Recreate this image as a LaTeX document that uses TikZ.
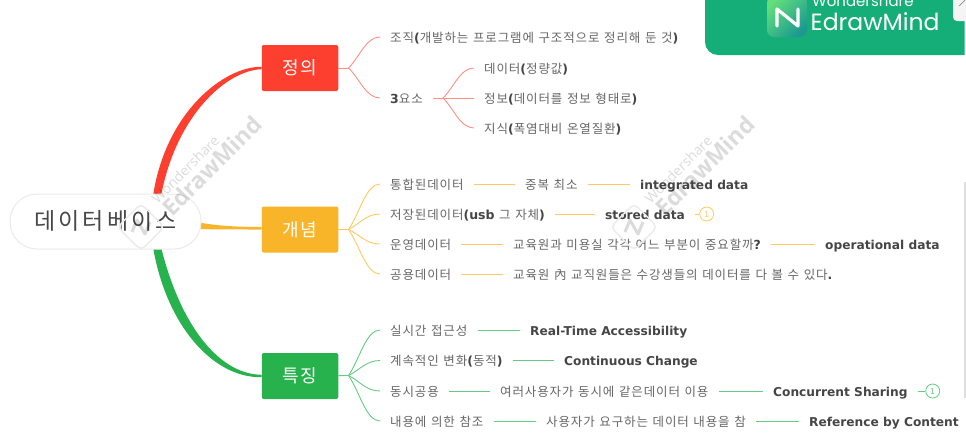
\documentclass[tikz,border=0pt]{standalone}
\usepackage{fontspec}
\usetikzlibrary{calc}
\setmainfont[LetterSpace=7,WordSpace=1.25]{Noto Sans CJK KR}
\newfontfamily\rootfont[LetterSpace=13.5]{Noto Sans CJK KR}
\newfontfamily\latfont{DejaVu Sans}
\newfontfamily\markfont{Open Sans}
\newfontfamily\brandfont{Poppins}
\newcommand{\lat}[1]{{\latfont\bfseries\color{latgray}#1}}
\definecolor{latgray}{HTML}{454545}
\definecolor{kortext}{HTML}{666666}
\definecolor{redc}{HTML}{FD3F2F}
\definecolor{orangec}{HTML}{F9B52A}
\definecolor{greenc}{HTML}{27B24E}
\definecolor{redl}{HTML}{FF8F85}
\definecolor{orangel}{HTML}{FFC95F}
\definecolor{greenl}{HTML}{63CC82}
\definecolor{brand}{HTML}{16AE78}
\definecolor{logotop}{HTML}{62DE7B}
\definecolor{logoend}{HTML}{1B9A90}
\tikzset{
  every node/.style={inner ysep=0pt,text height=10pt,text depth=0pt},
  leaf/.style={anchor=west,inner xsep=10pt,text=kortext,font=\fontsize{12.5}{14}\selectfont},
  term/.style={anchor=west,inner xsep=10pt,text=latgray,font=\fontsize{12.2}{14}\latfont\bfseries},
  topic/.style={minimum width=76.5pt,minimum height=46pt,rounded corners=2pt,text=white,
    fill=#1,font=\fontsize{18}{20}\selectfont,text height=13pt},
  badge/.style={circle,draw=#1,line width=.8pt,inner sep=0pt,minimum size=14pt,text=#1,
    text height=6pt,font=\fontsize{8}{8}\latfont},
  redline/.style={draw=redl,line width=.9pt},
  orangeline/.style={draw=orangel,line width=.9pt},
  greenline/.style={draw=greenl,line width=.9pt},
  forkto/.style={to path={.. controls ($(\tikztostart)!.35!(\tikztotarget)$) and ($(\tikztotarget)+(-14,0)$) .. (\tikztotarget)}},
  wmark/.style={text=black,text opacity=.14,rotate=45,text height=0pt},
}
\begin{document}
\begin{tikzpicture}[x=1pt,y=-1pt]
  \useasboundingbox (0,0) rectangle (966,447);
  % brand tab and scroll bar
  \fill[brand] (705,-20) [rounded corners=13pt] -- (705,55) [sharp corners] -- (964.5,55) -- (964.5,-20) -- cycle;
  \fill[black!4] (953,-20) [rounded corners=4pt] -- (953,21) [sharp corners] -- (966,21) -- (966,-20) -- cycle;
  \draw[black!45,line width=.7pt] (959,6) -- (966,-1);
  \shade[left color=logotop,right color=logoend,shading angle=45,rounded corners=7pt] (767,-4) rectangle (807,37);
  \draw[white,line width=3.2pt,line join=round,line cap=round] (777,26) -- (777,9) -- (798,26) -- (798,9);
  \node[text=white,anchor=west,inner sep=0pt,font=\fontsize{15}{16}\brandfont,text height=9pt] (brandtop) at (812,2) {Wondershare};
  \node[text=white,anchor=west,inner sep=0pt,font=\fontsize{23.5}{26}\brandfont,text height=17pt] (brandname) at (810.5,21.5) {EdrawMind};
  \fill[black!13] (964,182) rectangle (966,398);

  \node[topic=redc] (def) at (300,68) {정의};
  \node[topic=orangec] (concept) at (300,229.5) {개념};
  \node[topic=greenc] (feature) at (300,376) {특징};
  \coordinate (rootred) at (157,196);
  \coordinate (rootorange) at (199,226);
  \coordinate (rootgreen) at (157,247);
  % main branches get thinner towards the boxes
  \fill[redc] ($(rootred)+(-4,0)$) .. controls (166,110) and (226,66) .. ($(def.west)+(0,-1.2)$)
    -- ($(def.west)+(0,1.2)$) .. controls (226,70.5) and (176,116) .. ($(rootred)+(4,0)$) -- cycle;
  \fill[orangec] ($(rootorange)+(0,-3.5)$) .. controls (215,225.5) and (235,227) .. ($(concept.west)+(0,-2.5)$)
    -- ($(concept.west)+(0,0)$) .. controls (235,229.5) and (215,229.5) .. ($(rootorange)+(0,3)$) -- cycle;
  \fill[greenc] ($(rootgreen)+(-4,0)$) .. controls (166,324) and (212,378) .. ($(feature.west)+(0,1.2)$)
    -- ($(feature.west)+(0,-1.2)$) .. controls (216,374) and (179,320) .. ($(rootgreen)+(4,0)$) -- cycle;
  \node[draw=black!8,line width=1pt,fill=white,rounded corners=27pt,minimum width=191pt,minimum height=55pt,
    text=black!72,font=\fontsize{23}{24}\rootfont,text height=16pt] (root) at (105.5,221.5) {데이터베이스};

  \coordinate (deffork) at (348.5,68);
  \coordinate (factfork) at (443,98);
  \coordinate (conceptfork) at (348.5,229.5);
  \coordinate (featurefork) at (348.5,375.5);

  \node[leaf] (d1) at (380,37) {조직\lat{(}개발하는 프로그램에 구조적으로 정리해 둔 것\lat{)}};
  \node[leaf] (d2) at (380,98) {\lat{3}요소};
  \node[leaf] (f1) at (474,68) {데이터\lat{(}정량값\lat{)}};
  \node[leaf] (f2) at (474,98) {정보\lat{(}데이터를 정보 형태로\lat{)}};
  \node[leaf] (f3) at (474,128) {지식\lat{(}폭염대비 온열질환\lat{)}};

  \node[leaf] (c1) at (380,184) {통합된데이터};
  \node[leaf] (c1a) at (515,184) {중복 최소};
  \node[term] (c1b) at (630,184) {integrated data};
  \node[leaf] (c2) at (380,214) {저장된데이터\lat{(usb} 그 자체\lat{)}};
  \node[term] (c2a) at (595,214) {stored data};
  \node[badge=orangel] (c2n) at (706.7,214) {1};
  \node[leaf] (c3) at (380,244) {운영데이터};
  \node[leaf] (c3a) at (503,244) {교육원과 미용실 각각 어느 부분이 중요할까\lat{?}};
  \node[term] (c3b) at (815,244) {operational data};
  \node[leaf] (c4) at (380,274) {공용데이터};
  \node[leaf] (c4a) at (503,274) {교육원 內 교직원들은 수강생들의 데이터를 다 볼 수 있다\lat{.}};

  \node[leaf] (t1) at (380,330) {실시간 접근성};
  \node[term] (t1a) at (520,330) {Real-Time Accessibility};
  \node[leaf] (t2) at (380,360.5) {계속적인 변화\lat{(}동적\lat{)}};
  \node[term] (t2a) at (554,360.5) {Continuous Change};
  \node[leaf] (t3) at (380,391) {동시공용};
  \node[leaf] (t3a) at (490,391) {여러사용자가 동시에 같은데이터 이용};
  \node[term] (t3b) at (763,391) {Concurrent Sharing};
  \node[badge=greenl] (t3n) at (932.7,391) {1};
  \node[leaf] (t4) at (380,421) {내용에 의한 참조};
  \node[leaf] (t4a) at (536,421) {사용자가 요구하는 데이터 내용을 참};
  \node[term] (t4b) at (799,421) {Reference by Content};

  \path[redline]
    (def) edge (deffork)
    (deffork) edge[forkto] (d1.west) edge[forkto] (d2.west)
    (d2) edge (factfork)
    (factfork) edge[forkto] (f1.west) edge (f2.west) edge[forkto] (f3.west);
  \path[orangeline]
    (concept) edge (conceptfork)
    (conceptfork) edge[forkto] (c1.west) edge[forkto] (c2.west) edge[forkto] (c3.west) edge[forkto] (c4.west)
    (c1) edge (c1a) (c1a) edge (c1b)
    (c2) edge (c2a) (c2a) edge (c2n)
    (c3) edge (c3a) (c3a) edge (c3b)
    (c4) edge (c4a);
  \path[greenline]
    (feature) edge (featurefork)
    (featurefork) edge[forkto] (t1.west) edge[forkto] (t2.west) edge[forkto] (t3.west) edge[forkto] (t4.west)
    (t1) edge (t1a)
    (t2) edge (t2a)
    (t3) edge (t3a) (t3a) edge (t3b) (t3b) edge (t3n)
    (t4) edge (t4a) (t4a) edge (t4b);

  % the two watermarks
  \foreach \wx in {0,493} {
    \node[wmark,font=\fontsize{23}{23}\markfont\bfseries] (wmname\wx) at (218+\wx,172) {EdrawMind};
    \node[wmark,font=\fontsize{14}{14}\markfont] (wmmaker\wx) at (189+\wx,173) {Wondershare};
    \node[draw=black!8,line width=1.5pt,rotate=45,rounded corners=5pt,minimum size=33pt,text height=0pt] (wmlogo\wx) at (141+\wx,227) {};
    \draw[black,opacity=.14,line width=3pt,line join=round] ($(wmlogo\wx)+(-9,5)$) -- ($(wmlogo\wx)+(-4,-7)$) -- ($(wmlogo\wx)+(4,7)$) -- ($(wmlogo\wx)+(9,-5)$);
  }
\end{tikzpicture}
\end{document}
